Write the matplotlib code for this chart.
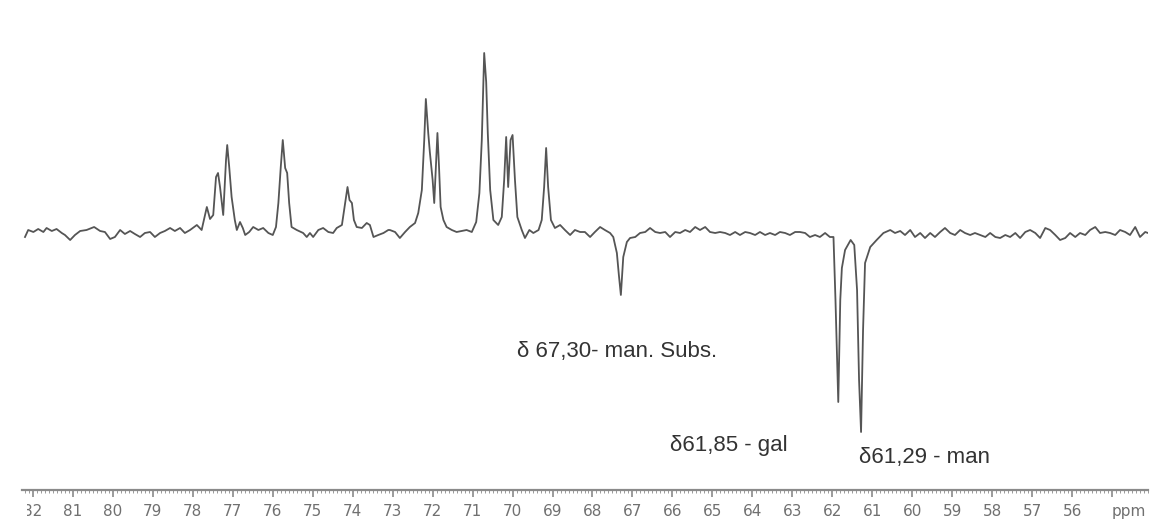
import matplotlib.pyplot as plt
from matplotlib.ticker import MultipleLocator, FixedLocator
from matplotlib.transforms import Bbox

# 13C DEPT trace: chemical shift (ppm) and intensity (baseline = 0)
left_ppm = [82.20, 82.12, 81.99, 81.87, 81.74, 81.66, 81.53, 81.41, 81.28, 81.20,
            81.07, 80.95, 80.82, 80.66, 80.47, 80.32, 80.20, 80.07, 79.95, 79.82,
            79.70, 79.57, 79.45, 79.32, 79.20, 79.07, 78.95, 78.82, 78.70, 78.57,
            78.45, 78.32, 78.20, 78.07, 77.90, 77.78]
left_int = [-3, 4, 2, 5, 2, 6, 3, 5, 1, -1,
            -6, -1, 3, 4, 7, 3, 2, -5, -3, 4,
            0, 3, 0, -3, 1, 2, -3, 1, 3, 6,
            3, 6, 1, 4, 9, 4]

peaks1_ppm = [77.65, 77.57, 77.49, 77.42, 77.37, 77.32, 77.24, 77.17, 77.14, 77.09,
              77.03, 76.95, 76.90, 76.82, 76.75, 76.69, 76.59, 76.49, 76.36, 76.24,
              76.11, 76.00, 75.92, 75.86, 75.80, 75.75, 75.69, 75.64, 75.59, 75.53,
              75.40, 75.24, 75.15, 75.07, 74.99, 74.86, 74.74, 74.61, 74.49, 74.40,
              74.27, 74.19, 74.13, 74.08, 74.02, 73.97, 73.90, 73.77, 73.65, 73.57,
              73.48, 73.36, 73.23, 73.11]
peaks1_int = [27, 15, 19, 57, 61, 47, 19, 74, 89, 67,
              37, 14, 4, 12, 6, -1, 2, 7, 4, 6,
              1, -1, 7, 31, 67, 94, 66, 61, 31, 7,
              4, 1, -3, 1, -3, 4, 6, 2, 1, 6,
              9, 31, 47, 34, 31, 14, 7, 6, 11, 9,
              -3, -1, 1, 4]

peaks2_ppm = [73.07, 72.94, 72.82, 72.69, 72.57, 72.44, 72.36, 72.27, 72.21, 72.17,
              72.11, 72.07, 72.00, 71.96, 71.92, 71.88, 71.84, 71.80, 71.73, 71.65,
              71.52, 71.40, 71.27, 71.15, 71.02, 70.91, 70.83, 70.77, 70.73, 70.71,
              70.66, 70.62, 70.56, 70.48, 70.36, 70.27, 70.21, 70.16, 70.11, 70.05,
              70.00, 69.94, 69.88, 69.77, 69.69, 69.58, 69.48, 69.35, 69.27, 69.21,
              69.16, 69.11, 69.04, 68.94, 68.81, 68.69, 68.56, 68.44, 68.31, 68.19,
              68.06]
peaks2_int = [4, 2, -4, 2, 7, 11, 21, 44, 94, 135,
              101, 82, 54, 31, 67, 101, 67, 27, 14, 7,
              4, 2, 3, 4, 2, 12, 41, 94, 151, 181,
              152, 101, 44, 14, 9, 17, 54, 97, 47, 94,
              99, 54, 17, 4, -4, 4, 1, 4, 14, 47,
              86, 47, 14, 6, 9, 4, -1, 4, 2, 2,
              -3]

neg_ppm = [67.94, 67.81, 67.69, 67.56, 67.48, 67.39, 67.34, 67.29, 67.23, 67.14,
           67.06, 66.93, 66.81, 66.68, 66.56, 66.43, 66.31, 66.18, 66.06, 65.93,
           65.81, 65.68, 65.56, 65.43, 65.31, 65.18, 65.06, 64.93, 64.81, 64.68,
           64.56, 64.43, 64.31, 64.18, 64.06, 63.93, 63.81, 63.68, 63.56, 63.43,
           63.31, 63.18, 63.06, 62.93, 62.81, 62.68, 62.56, 62.43, 62.31, 62.18,
           62.06, 61.97, 61.92, 61.85, 61.80, 61.76, 61.68, 61.54, 61.45, 61.38,
           61.33, 61.28, 61.23, 61.18, 61.05, 60.89, 60.72]
neg_int = [2, 7, 4, 1, -3, -19, -41, -61, -23, -8,
           -4, -3, 1, 2, 6, 2, 1, 2, -3, 2,
           1, 4, 2, 7, 4, 7, 2, 1, 2, 1,
           -1, 2, -1, 2, 1, -1, 2, -1, 1, -1,
           2, 1, -1, 2, 2, 1, -3, -1, -3, 1,
           -3, -3, -66, -168, -66, -34, -16, -6, -11, -56,
           -146, -198, -96, -29, -13, -6, 1]

right_ppm = [60.55, 60.43, 60.30, 60.18, 60.05, 59.93, 59.80, 59.68, 59.55, 59.43,
             59.30, 59.18, 59.05, 58.93, 58.80, 58.68, 58.55, 58.43, 58.30, 58.17,
             58.05, 57.92, 57.80, 57.67, 57.55, 57.42, 57.30, 57.17, 57.05, 56.92,
             56.80, 56.67, 56.55, 56.42, 56.30, 56.17, 56.05, 55.92, 55.80, 55.67,
             55.55, 55.42, 55.30, 55.17, 55.05, 54.92, 54.80, 54.67, 54.55, 54.42,
             54.30, 54.17, 54.10]
right_int = [4, 1, 3, -1, 4, -3, 1, -4, 1, -3,
             2, 6, 1, -1, 4, 1, -1, 1, -1, -3,
             1, -3, -4, -1, -3, 1, -4, 2, 4, 1,
             -4, 6, 4, -1, -6, -4, 1, -3, 1, -1,
             4, 7, 1, 2, 1, -1, 4, 2, -1, 7,
             -3, 2, 1]

major_ticks = list(range(55, 83))
tick_labels = ["ppm"] + [str(t) for t in range(56, 83)]
annotations = [
    (69.89, -118, "δ 67,30- man. Subs."),
    (66.06, -211, "δ61,85 - gal"),
    (61.33, -224, "δ61,29 - man"),
]

ppm = left_ppm + peaks1_ppm + peaks2_ppm + neg_ppm + right_ppm
inten = left_int + peaks1_int + peaks2_int + neg_int + right_int

W, H = 1151, 522
fig = plt.figure(figsize=(W / 100, H / 100), dpi=100)
ax = fig.add_axes([22 / W, 32 / H, 1126 / W, 490 / H])
ax.plot(ppm, inten, color="#555555", lw=1.3)
ax.set_xlim(82.275, 54.10)
ax.set_ylim(-256, 234)

for s in ["top", "left", "right"]:
    ax.spines[s].set_visible(False)
ax.spines["bottom"].set_color("#8a8a8a")
ax.spines["bottom"].set_linewidth(1.6)
ax.set_yticks([])

ax.xaxis.set_major_locator(FixedLocator(major_ticks))
ax.xaxis.set_minor_locator(MultipleLocator(0.1))
ax.set_xticklabels(tick_labels)
ax.tick_params(axis="x", which="major", direction="out", length=5, width=1.2,
               color="#8a8a8a", labelsize=11, labelcolor="#707070", pad=5)
ax.tick_params(axis="x", which="minor", direction="out", length=2.2, width=0.7,
               color="#9a9a9a")
labels = ax.get_xticklabels()
labels[0].set_horizontalalignment("left")
# the leftmost label is cut by the picture's edge in the original
labels[-1].set_clip_on(True)
labels[-1].set_clip_box(Bbox.from_extents(27, 0, W, H))

for x, y, s in annotations:
    ax.text(x, y, s, ha="left", va="center", fontsize=16,
            family="Liberation Sans", color="#333333")

fig.savefig("out.png", dpi=100)
